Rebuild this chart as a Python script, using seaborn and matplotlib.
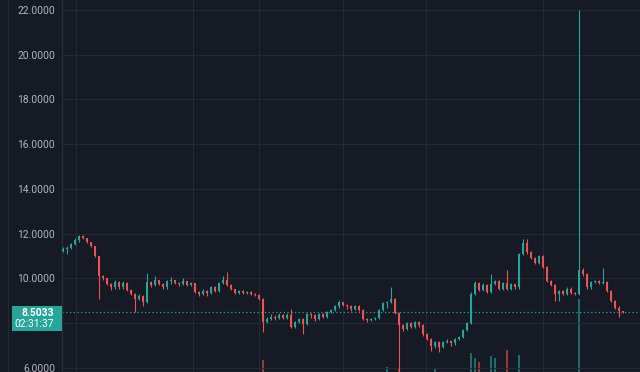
import numpy as np
import matplotlib
matplotlib.use("Agg")
import matplotlib.pyplot as plt
from matplotlib.patches import Rectangle
from matplotlib.lines import Line2D
import seaborn as sns

# ---- candle data (one row of 10 per line) ----
first_open = 11.25
closes = [
    11.30, 11.35, 11.55, 11.70, 11.90, 11.80, 11.65, 11.45, 11.00, 10.10,
    10.00, 9.75, 9.60, 9.85, 9.60, 9.80, 9.50, 9.30, 9.10, 9.20,
    8.95, 9.85, 9.70, 9.95, 9.75, 9.60, 9.90, 9.95, 9.80, 9.75,
    9.90, 9.70, 9.80, 9.40, 9.30, 9.45, 9.35, 9.60, 9.45, 9.80,
    9.95, 9.70, 9.55, 9.35, 9.45, 9.35, 9.40, 9.30, 9.25, 9.10,
    8.05, 8.20, 8.30, 8.25, 8.35, 8.25, 8.35, 7.85, 8.05, 8.20,
    7.95, 8.40, 8.35, 8.20, 8.40, 8.30, 8.50, 8.60, 8.75, 8.95,
    8.80, 8.75, 8.65, 8.75, 8.60, 8.20, 8.15, 8.20, 8.25, 8.60,
    8.90, 8.95, 9.10, 8.45, 7.90, 7.75, 8.00, 7.85, 8.05, 7.90,
    7.50, 7.30, 7.00, 7.15, 6.95, 7.15, 7.20, 7.10, 7.30, 7.40,
    7.70, 8.00, 9.30, 9.80, 9.50, 9.70, 9.40, 9.75, 9.90, 9.55,
    9.80, 9.55, 9.75, 9.60, 11.10, 11.60, 11.20, 10.90, 10.70, 11.00,
    10.50, 9.90, 9.70, 9.30, 9.45, 9.30, 9.55, 9.35, 9.30, 10.40,
    10.20, 9.60, 9.85, 9.90, 9.80, 9.85, 9.45, 9.00, 8.70, 8.55,
    8.5033,
]
highs = [
    11.40, 11.45, 11.60, 11.80, 11.95, 11.95, 11.80, 11.65, 11.45, 11.00,
    10.15, 10.00, 9.80, 9.95, 9.90, 9.90, 9.85, 9.55, 9.35, 9.30,
    9.25, 10.25, 9.90, 10.10, 9.95, 9.80, 9.95, 10.05, 9.95, 9.85,
    10.00, 9.90, 9.85, 9.80, 9.45, 9.55, 9.50, 9.65, 9.65, 9.85,
    10.10, 10.30, 9.75, 9.55, 9.50, 9.50, 9.45, 9.45, 9.35, 9.30,
    9.15, 8.30, 8.40, 8.35, 8.45, 8.40, 8.45, 8.65, 8.10, 8.25,
    8.25, 8.45, 8.45, 8.40, 8.45, 8.45, 8.55, 8.65, 8.80, 9.05,
    8.95, 8.85, 8.80, 8.80, 8.80, 8.65, 8.25, 8.25, 8.30, 8.65,
    8.95, 9.00, 9.60, 9.15, 8.50, 7.95, 8.05, 8.05, 8.10, 8.10,
    7.95, 7.55, 7.35, 7.20, 7.20, 7.20, 7.30, 7.25, 7.35, 7.45,
    7.75, 8.05, 9.40, 9.90, 9.85, 9.80, 9.75, 10.20, 9.95, 9.95,
    9.85, 10.40, 9.80, 9.75, 11.15, 11.75, 11.75, 11.25, 10.95, 11.05,
    11.05, 10.55, 9.95, 9.75, 9.50, 9.50, 9.60, 9.60, 9.40, 22.00,
    10.45, 10.25, 9.90, 9.95, 9.95, 10.45, 9.90, 9.50, 9.05, 8.75,
    8.55,
]
lows = [
    11.20, 11.10, 11.30, 11.50, 11.65, 11.75, 11.60, 11.40, 10.95, 9.10,
    9.95, 9.70, 9.50, 9.55, 9.55, 9.55, 9.45, 9.25, 8.50, 9.05,
    8.75, 8.90, 9.60, 9.65, 9.70, 9.55, 9.55, 9.75, 9.75, 9.65,
    9.70, 9.65, 9.65, 9.35, 9.20, 9.25, 9.20, 9.30, 9.40, 9.40,
    9.75, 9.65, 9.50, 9.30, 9.30, 9.30, 9.30, 9.25, 9.20, 9.05,
    7.60, 8.00, 8.15, 8.15, 8.20, 8.20, 8.20, 7.80, 7.80, 8.00,
    7.50, 7.90, 8.25, 8.10, 8.15, 8.25, 8.25, 8.45, 8.55, 8.70,
    8.75, 8.65, 8.55, 8.60, 8.55, 8.15, 8.05, 8.10, 8.15, 8.20,
    8.55, 8.70, 8.90, 8.40, 5.80, 7.65, 7.70, 7.80, 7.80, 7.85,
    7.45, 7.25, 6.75, 6.90, 6.70, 6.90, 7.10, 7.00, 7.05, 7.25,
    7.35, 7.65, 7.95, 9.25, 9.45, 9.45, 9.35, 9.35, 9.70, 9.50,
    9.50, 9.50, 9.50, 9.55, 9.55, 11.05, 11.10, 10.85, 10.65, 10.65,
    10.45, 9.85, 9.65, 9.00, 9.00, 9.25, 9.25, 9.30, 9.25, 9.25,
    10.10, 9.55, 9.55, 9.80, 9.75, 9.75, 9.40, 8.95, 8.65, 8.30,
    8.45,
]

# volume spikes (candle index -> volume, in k); the rest are tiny
vol_index = [50, 81, 84, 93, 102, 103, 104, 107, 108, 111, 114, 129]
vol_value = [120, 50, 40, 40, 190, 140, 100, 160, 140, 220, 170, 720]

last_price = 8.5033
countdown = "02:31:37"
price_ticks = [6, 8, 10, 12, 14, 16, 18, 20, 22]
month_lines = [3.25, 32.5, 49, 70, 90.75, 120]

# ---- styling ----
bg = "#161a25"
grid_c = "#242935"
up_c = "#26a69a"
down_c = "#ef5350"
txt_c = "#b2b5be"

sns.set_theme(style="dark", rc={"axes.facecolor": bg, "figure.facecolor": bg})
plt.rcParams["font.family"] = ["Roboto", "DejaVu Sans"]

n = len(closes)
idx = np.arange(n)
opens = np.array([first_open] + closes[:-1])
closes_a = np.array(closes)
body_hi = np.maximum(opens, closes_a)
body_lo = np.minimum(opens, closes_a)
hi = np.maximum(np.array(highs), body_hi)
lo = np.minimum(np.array(lows), body_lo)
up = closes_a >= opens
colors = np.where(up, up_c, down_c)

fig = plt.figure(figsize=(6.4, 3.72), dpi=100)
ax = fig.add_axes([62 / 640, 0, 578 / 640, 1])

# volume pane underneath
vol = np.zeros(n)
vol[vol_index] = vol_value
axv = ax.twinx()
axv.bar(idx, vol, width=0.7, color=colors, alpha=0.6, linewidth=0)
axv.set_ylim(0, max(vol_value) / 0.195)
axv.set_yticks([])
axv.set_zorder(0)
ax.set_zorder(1)
ax.patch.set_visible(False)
fig.patch.set_facecolor(bg)
axv.set_facecolor(bg)

# candles
ax.vlines(idx, lo, hi, colors=colors, linewidth=0.8, zorder=3)
ax.bar(idx, np.maximum(body_hi - body_lo, 0.02), bottom=body_lo, width=0.74,
       color=colors, linewidth=0, zorder=4)

# last price line
ax.axhline(last_price, color=up_c, linestyle=(0, (1, 2)), linewidth=0.9, zorder=2)

ax.set_xlim(-0.25, 144.25)
ax.set_ylim(5.821, 22.447)
ax.set_yticks(price_ticks)
# the 8.0000 label sits under the last-price box
ax.set_yticklabels(["" if t == 8 else f"{t:.4f}" for t in price_ticks])
ax.set_xticks(month_lines)
ax.set_xticklabels([])
ax.grid(True, color=grid_c, linewidth=0.8)
axv.grid(False)
ax.tick_params(axis="y", length=0, pad=5, labelsize=7.4, labelcolor=txt_c)
ax.tick_params(axis="x", length=0)
for s in ["top", "right", "bottom"]:
    ax.spines[s].set_visible(False)
    axv.spines[s].set_visible(False)
ax.spines["left"].set_color("#2a2e39")
ax.spines["left"].set_linewidth(1)
axv.spines["left"].set_visible(False)

# left panel border
fig.add_artist(Line2D([8 / 640, 8 / 640], [0, 1], color="#262a35", linewidth=0.8))

# price label box
fig.add_artist(Rectangle((12 / 640, 41 / 372), 50 / 640, 25 / 372,
                         color=up_c, zorder=10, linewidth=0))
fig.text(54 / 640, (372 - 313) / 372, f"{last_price:.4f}", color="white",
         fontsize=7.4, fontweight="bold", ha="right", va="center", zorder=11)
fig.text(54 / 640, (372 - 324) / 372, countdown, color="white",
         fontsize=7.3, ha="right", va="center", zorder=11)

fig.savefig("out.png", dpi=100, facecolor=bg)
